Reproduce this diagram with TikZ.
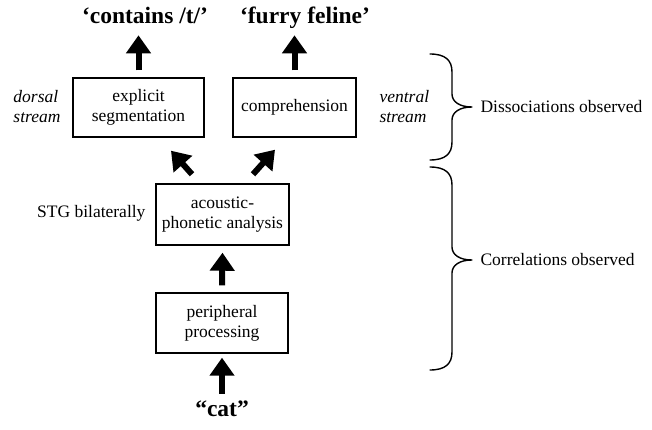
\documentclass[tikz,border=0pt]{standalone}
\usepackage{fontspec}
\setmainfont{Liberation Serif}
\usetikzlibrary{arrows.meta}
\begin{document}
\begin{tikzpicture}[x=1pt,y=-1pt,
  every node/.style={font=\fontsize{17.5}{20}\selectfont},
  procbox/.style={draw,line width=1.4pt,align=center,inner sep=1pt},
  bigarrow/.style={line width=6pt,-{Triangle[length=18pt,width=24pt]}},
  title/.style={font=\fontsize{23.5}{26}\selectfont\bfseries,anchor=base},
  side/.style={font=\fontsize{17.5}{20}\selectfont\itshape,align=left},
  bracepath/.style={line width=1.4pt,line cap=round,line join=round}]
\useasboundingbox (0,0) rectangle (652,430);
% boxes
\node[procbox,minimum width=131pt,minimum height=59pt] (expl) at (138.5,107.5) {explicit\\segmentation};
\node[procbox,minimum width=123pt,minimum height=59pt] (comp) at (294.5,107.5) {comprehension};
\node[procbox,minimum width=133pt,minimum height=61pt] (ac) at (222.5,214.5) {acoustic-\\phonetic analysis};
\node[procbox,minimum width=132pt,minimum height=60pt] (peri) at (222,323) {peripheral\\processing};
% titles
\node[title] (t1) at (145,24) {‘contains /t/’};
\node[title] (t2) at (305,24) {‘furry feline’};
\node[title] (cat) at (222,416) {“cat”};
% side labels
\node[side,anchor=east] (dors) at (64,107) {dorsal\\stream};
\node[side,anchor=west] (vent) at (376,107) {ventral\\stream};
\node[anchor=east] (stg) at (149,213) {STG bilaterally};
\node[anchor=west] (diss) at (477,107) {Dissociations observed};
\node[anchor=west] (corr) at (477,260) {Correlations observed};
% arrows
\draw[bigarrow] ([yshift=7pt]expl.north) -- ([yshift=42pt]expl.north);
\draw[bigarrow] ([yshift=7pt]comp.north) -- ([yshift=42pt]comp.north);
\draw[bigarrow] ([xshift=-30.5pt,yshift=9pt]ac.north) -- ([xshift=32.5pt,yshift=-13pt]expl.south);
\draw[bigarrow] ([xshift=30.5pt,yshift=9pt]ac.north) -- ([xshift=-19.5pt,yshift=-12pt]comp.south);
\draw[bigarrow] ([yshift=7pt]peri.north) -- ([yshift=-7pt]ac.south);
\draw[bigarrow] ([yshift=-40pt]peri.south) -- ([yshift=-4pt]peri.south);
% braces
\coordinate (b1top) at (430,54);
\coordinate (b1bot) at (430,160);
\coordinate (b2top) at (430,167);
\coordinate (b2bot) at (430,370);
\draw[bracepath] (b1top) .. controls (445,54) and (452,60) .. (452,72) -- (452,94)
  .. controls (452,102) and (460,107) .. (472,107)
  .. controls (460,107) and (452,112) .. (452,120) -- (452,142)
  .. controls (452,154) and (445,160) .. (b1bot);
\draw[bracepath] (b2top) .. controls (445,167) and (452,173) .. (452,185) -- (452,247)
  .. controls (452,255) and (460,260) .. (472,260)
  .. controls (460,260) and (452,265) .. (452,273) -- (452,352)
  .. controls (452,364) and (445,370) .. (b2bot);
\end{tikzpicture}
\end{document}
